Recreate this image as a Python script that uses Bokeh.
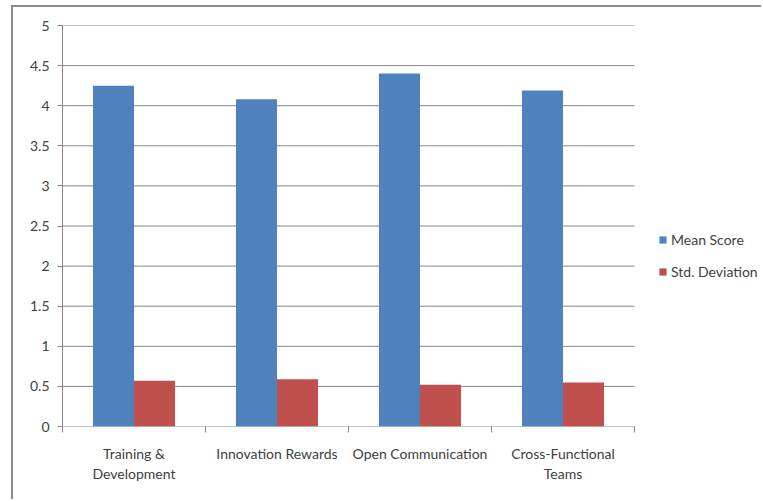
from bokeh.plotting import figure
from bokeh.models import FixedTicker, Legend, LegendItem
from bokeh.embed import file_html
from bokeh.resources import INLINE

categories = ["Training &\nDevelopment", "Innovation Rewards", "Open Communication", "Cross-Functional\nTeams"]
mean_score = [4.25, 4.08, 4.40, 4.19]
std_dev = [0.57, 0.59, 0.52, 0.55]
y_ticks = [0, 0.5, 1, 1.5, 2, 2.5, 3, 3.5, 4, 4.5, 5]

FONT = "Lato"
n = len(categories)
centers = [i + 0.5 for i in range(n)]
bw = 0.287
x_mean = [c - bw / 2 for c in centers]
x_std = [c + bw / 2 for c in centers]

# frame spans page x 62..763 (701 px); 4 categories occupy 572 px
x_end = n * 701 / 572

p = figure(width=750, height=494, x_range=(0, x_end), y_range=(0, 5),
           output_backend="svg", toolbar_location=None,
           min_border_left=49, min_border_top=18, min_border_right=0, min_border_bottom=75)
p.margin = (5, 0, 0, 11)
p.styles = {"border-left": "2px solid #8c8c8c", "border-top": "2px solid #8c8c8c"}
p.outline_line_color = None
p.background_fill_color = "white"
p.border_fill_color = "white"

# horizontal gridlines limited to the category area
p.segment(x0=[0] * len(y_ticks), x1=[n] * len(y_ticks), y0=y_ticks, y1=y_ticks,
          line_color="#868686", line_width=1)

r1 = p.vbar(x=x_mean, top=mean_score, width=bw, bottom=0, fill_color="#4F81BD", line_color=None)
r2 = p.vbar(x=x_std, top=std_dev, width=bw, bottom=0, fill_color="#C0504D", line_color=None)

# y axis
p.yaxis.ticker = FixedTicker(ticks=y_ticks)
p.yaxis.axis_line_color = "#868686"
p.yaxis.major_tick_line_color = "#868686"
p.yaxis.major_tick_out = 5
p.yaxis.major_tick_in = 0
p.yaxis.minor_tick_line_color = None
p.yaxis.major_label_text_font = FONT
p.yaxis.major_label_text_font_size = "14px"
p.yaxis.major_label_text_color = "#404040"
p.yaxis.major_label_standoff = 8
p.yaxis.major_label_overrides = {t: ("%g" % t) for t in y_ticks}

# x axis
p.xaxis.ticker = FixedTicker(ticks=centers, minor_ticks=list(range(n + 1)))
p.xaxis.major_label_overrides = {c: lab for c, lab in zip(centers, categories)}
p.xaxis.axis_line_color = None
p.xaxis.major_tick_line_color = None
p.xaxis.major_tick_out = 0
p.xaxis.minor_tick_line_color = "#868686"
p.xaxis.minor_tick_out = 6
p.xaxis.minor_tick_in = 0
p.xaxis.major_label_text_font = FONT
p.xaxis.major_label_text_font_size = "14px"
p.xaxis.major_label_text_color = "#404040"
p.xaxis.major_label_standoff = 12

p.xgrid.grid_line_color = None
p.ygrid.grid_line_color = None

legend = Legend(items=[LegendItem(label="Mean Score", renderers=[r1]),
                       LegendItem(label="Std. Deviation", renderers=[r2])],
                location=(596, 146))
legend.border_line_color = None
legend.background_fill_alpha = 0
legend.padding = 0
legend.margin = 0
legend.spacing = 15
legend.glyph_width = 9
legend.glyph_height = 9
legend.label_standoff = 4
legend.label_text_font = FONT
legend.label_text_font_size = "14px"
legend.label_text_color = "#404040"
p.add_layout(legend, "center")

open("out.html", "w").write(file_html(p, INLINE))
